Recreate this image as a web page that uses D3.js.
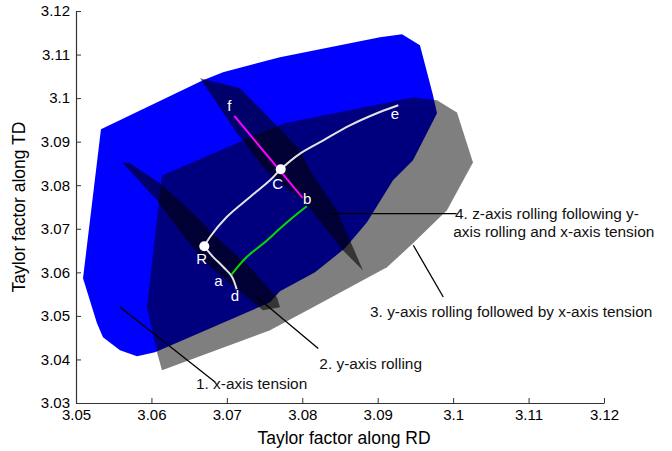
<!DOCTYPE html>
<html>
<head>
<meta charset="utf-8">
<script src="https://cdn.jsdelivr.net/npm/d3@7"></script>
<style>
  body { margin: 0; background: #fff; }
  svg { font-family: "Liberation Sans", Arial, sans-serif; }
  .axis path, .axis line { stroke: #333; }
  .axis text { fill: #000; font-size: 15px; }
</style>
</head>
<body>
<div id="chart"></div>
<script>
var svgWidth = 672;
var svgHeight = 451;

var margin = { top: 11, right: 68, bottom: 48, left: 76 };
var width = svgWidth - margin.left - margin.right;
var height = svgHeight - margin.top - margin.bottom;

// axis ticks
var xTicks = [3.05, 3.06, 3.07, 3.08, 3.09, 3.1, 3.11, 3.12];
var yTicks = [3.03, 3.04, 3.05, 3.06, 3.07, 3.08, 3.09, 3.1, 3.11, 3.12];

// 1. x-axis tension region (blue)
var tensionRegion = [
  [3.05331, 3.09285], [3.06684, 3.10410], [3.06949, 3.10594], [3.07704, 3.10938],
  [3.09030, 3.11398], [3.09322, 3.11467], [3.09560, 3.11214], [3.09733, 3.10066],
  [3.09786, 3.09653], [3.09468, 3.08574], [3.09203, 3.08114], [3.08858, 3.07149],
  [3.08566, 3.06552], [3.08169, 3.06001], [3.07704, 3.05565], [3.07572, 3.05312],
  [3.06047, 3.04164], [3.05809, 3.04072], [3.05583, 3.04210], [3.05358, 3.04509],
  [3.05278, 3.04830], [3.05093, 3.05864]
];

// 3. y-axis rolling followed by x-axis tension (grey)
var rollTensionRegion = [
  [3.06140, 3.08223], [3.07744, 3.09417], [3.09468, 3.10014], [3.09786, 3.09950],
  [3.10051, 3.09670], [3.10263, 3.08522], [3.09918, 3.07425], [3.09468, 3.06667],
  [3.09123, 3.06116], [3.08142, 3.05198], [3.07572, 3.04670], [3.06140, 3.03751],
  [3.06074, 3.04164], [3.05941, 3.05198]
];

// 2. y-axis rolling band
var yRollingBand = [
  [3.05610, 3.08527], [3.05716, 3.08504], [3.06114, 3.08045], [3.06551, 3.07356],
  [3.06909, 3.06736], [3.07307, 3.06116], [3.07665, 3.05427], [3.07704, 3.05198],
  [3.07479, 3.05129], [3.07042, 3.05749], [3.06684, 3.06277], [3.06339, 3.07034],
  [3.06074, 3.07654]
];

// 4. z-axis rolling band
var zRollingBand = [
  [3.06644, 3.10454], [3.07174, 3.10224], [3.07439, 3.09765], [3.07970, 3.08801],
  [3.08102, 3.08340], [3.08460, 3.07422], [3.08805, 3.06044], [3.08540, 3.06503],
  [3.08049, 3.07583], [3.07519, 3.08340], [3.07108, 3.09258], [3.06843, 3.09951]
];

// strain paths
var pathRCE = [
  [3.06701, 3.06598], [3.06776, 3.06812], [3.06998, 3.07271], [3.07307, 3.07730],
  [3.07572, 3.08112], [3.07714, 3.08366], [3.07970, 3.08727], [3.08279, 3.09032],
  [3.08632, 3.09376], [3.09030, 3.09682], [3.09273, 3.09836]
];
var pathRAD = [
  [3.06701, 3.06598], [3.06799, 3.06391], [3.06953, 3.06123], [3.07064, 3.05910],
  [3.07130, 3.05611]
];
var pathAB = [
  [3.07064, 3.05955], [3.07263, 3.06352], [3.07483, 3.06660], [3.07704, 3.07005],
  [3.07881, 3.07271], [3.08059, 3.07517]
];
var pathFB = [[3.07099, 3.09590], [3.08005, 3.07707]];

// marked states
var markers = [[3.06701, 3.06598], [3.07714, 3.08366]];
var pointLabels = ["f", "C", "b", "R", "a", "d", "e"];
var pointLabelX = [3.07032, 3.07674, 3.08066, 3.06666, 3.06887, 3.07108, 3.09229];
var pointLabelY = [3.09836, 3.08038, 3.07693, 3.06316, 3.05801, 3.05457, 3.09645];

// annotations
var leaderLines = [
  [[3.05583, 3.05203], [3.06843, 3.03481]],
  [[3.07396, 3.05434], [3.08212, 3.04249]],
  [[3.09472, 3.06621], [3.09869, 3.05434]],
  [[3.08367, 3.07349], [3.10047, 3.07349]]
];
var noteText = [
  "1. x-axis tension",
  "2. y-axis rolling",
  "3. y-axis rolling followed by x-axis tension",
  "4. z-axis rolling following y-",
  "axis rolling and x-axis tension"
];
var noteX = [3.06591, 3.08226, 3.08898, 3.10025, 3.10002];
var noteY = [3.03445, 3.03905, 3.05090, 3.07349, 3.06927];

var svg = d3.select("#chart")
  .append("svg")
  .attr("width", svgWidth)
  .attr("height", svgHeight);

var chartGroup = svg.append("g")
  .attr("transform", `translate(${margin.left}, ${margin.top})`);

var xScale = d3.scaleLinear().domain([3.05, 3.12]).range([0, width]);
var yScale = d3.scaleLinear().domain([3.03, 3.12]).range([height, 0]);

var area = d3.line()
  .x(d => xScale(d[0]))
  .y(d => yScale(d[1]))
  .curve(d3.curveLinearClosed);

var curve = d3.line()
  .x(d => xScale(d[0]))
  .y(d => yScale(d[1]))
  .curve(d3.curveCatmullRom);

// regions
chartGroup.append("path")
  .attr("d", area(tensionRegion))
  .attr("fill", "#0000ff");

chartGroup.append("path")
  .attr("d", area(rollTensionRegion))
  .attr("fill", "#000")
  .attr("fill-opacity", 0.5);

[yRollingBand, zRollingBand].forEach(function(band) {
  chartGroup.append("path")
    .attr("d", area(band))
    .attr("fill", "#000")
    .attr("fill-opacity", 0.58);
});

// paths
chartGroup.append("path").attr("d", curve(pathRCE))
  .attr("fill", "none").attr("stroke", "#e4e4e4").attr("stroke-width", 2);
chartGroup.append("path").attr("d", curve(pathRAD))
  .attr("fill", "none").attr("stroke", "#e4e4e4").attr("stroke-width", 2);
chartGroup.append("path").attr("d", curve(pathAB))
  .attr("fill", "none").attr("stroke", "#00dd00").attr("stroke-width", 2);
chartGroup.append("path").attr("d", curve(pathFB))
  .attr("fill", "none").attr("stroke", "#ff00ff").attr("stroke-width", 2);

chartGroup.selectAll(".marker")
  .data(markers)
  .enter()
  .append("circle")
  .attr("class", "marker")
  .attr("cx", d => xScale(d[0]))
  .attr("cy", d => yScale(d[1]))
  .attr("r", 5)
  .attr("fill", "#fff");

chartGroup.selectAll(".pointLabel")
  .data(pointLabels)
  .enter()
  .append("text")
  .attr("class", "pointLabel")
  .attr("x", (d, i) => xScale(pointLabelX[i]))
  .attr("y", (d, i) => yScale(pointLabelY[i]))
  .attr("dy", "0.35em")
  .attr("text-anchor", "middle")
  .attr("fill", "#fff")
  .attr("font-size", "15px")
  .text(d => d);

// leader lines and notes
chartGroup.selectAll(".leader")
  .data(leaderLines)
  .enter()
  .append("line")
  .attr("class", "leader")
  .attr("x1", d => xScale(d[0][0]))
  .attr("y1", d => yScale(d[0][1]))
  .attr("x2", d => xScale(d[1][0]))
  .attr("y2", d => yScale(d[1][1]))
  .attr("stroke", "#000")
  .attr("stroke-width", 1.3);

chartGroup.selectAll(".note")
  .data(noteText)
  .enter()
  .append("text")
  .attr("class", "note")
  .attr("x", (d, i) => xScale(noteX[i]))
  .attr("y", (d, i) => yScale(noteY[i]))
  .attr("dy", "0.35em")
  .attr("font-size", "15.4px")
  .attr("fill", "#111")
  .text(d => d);

// axes, ticks pointing inward
var bottomAxis = d3.axisBottom(xScale)
  .tickValues(xTicks)
  .tickFormat(d3.format("~g"))
  .tickSizeInner(-5)
  .tickSizeOuter(0)
  .tickPadding(6);

var leftAxis = d3.axisLeft(yScale)
  .tickValues(yTicks)
  .tickFormat(d3.format("~g"))
  .tickSizeInner(-5)
  .tickSizeOuter(0)
  .tickPadding(6);

chartGroup.append("g")
  .attr("class", "axis")
  .attr("transform", `translate(0, ${height})`)
  .call(bottomAxis)
  .call(g => g.selectAll("text").attr("font-family", null).attr("font-size", null));

chartGroup.append("g")
  .attr("class", "axis")
  .call(leftAxis)
  .call(g => g.selectAll("text").attr("font-family", null).attr("font-size", null));

svg.selectAll(".axis .domain").attr("stroke-width", 1.2);

// axis titles
chartGroup.append("text")
  .attr("x", width / 2 + 4)
  .attr("y", height + 41)
  .attr("text-anchor", "middle")
  .attr("font-size", "17.5px")
  .text("Taylor factor along RD");

chartGroup.append("text")
  .attr("transform", "rotate(-90)")
  .attr("x", -height / 2)
  .attr("y", -51)
  .attr("text-anchor", "middle")
  .attr("font-size", "17.5px")
  .text("Taylor factor along TD");
</script>
</body>
</html>
